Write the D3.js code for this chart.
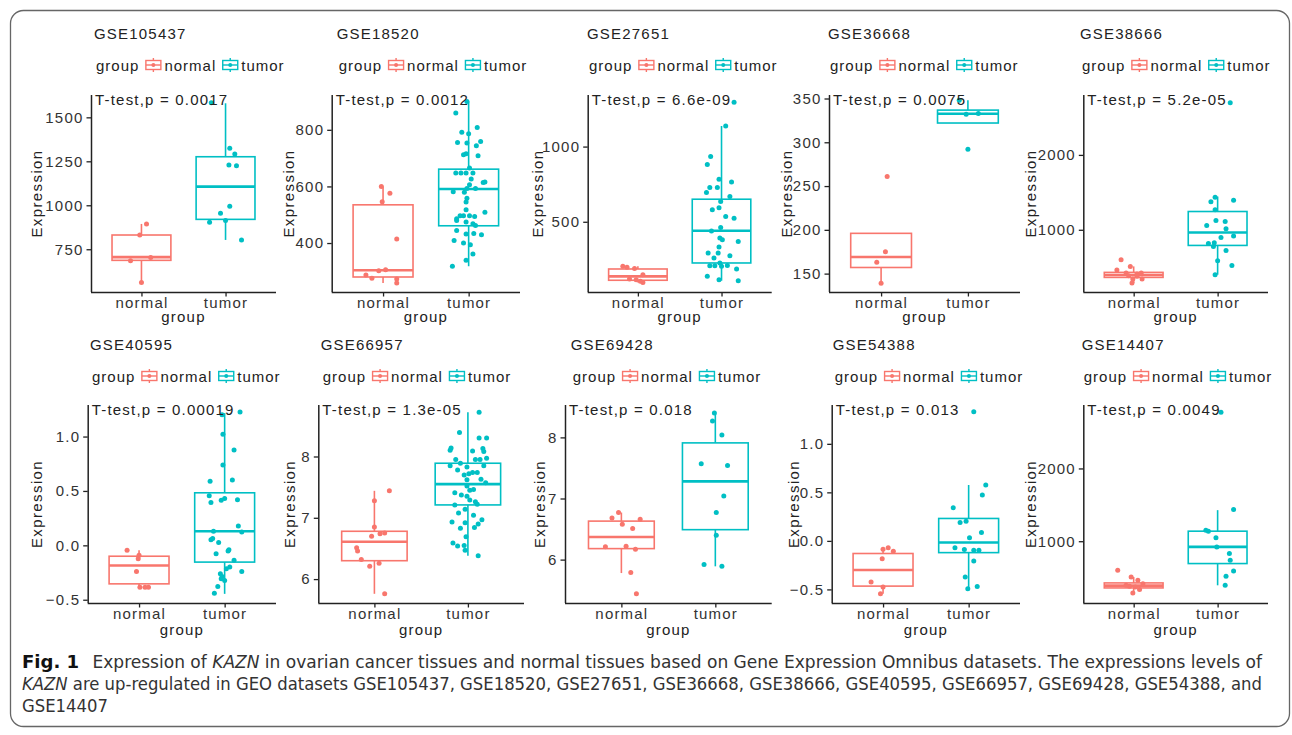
<!DOCTYPE html>
<html>
<head>
<meta charset="utf-8">
<script src="https://cdn.jsdelivr.net/npm/d3@7"></script>
<style>
body { margin: 0; background: #fff; }
svg text { font-family: "Liberation Sans", Arial, sans-serif; }
.caption text { font-family: "DejaVu Sans Condensed", "Liberation Sans Narrow", "Roboto Condensed", "Liberation Sans", sans-serif; white-space: pre; }
</style>
</head>
<body>
<svg id="chart" width="1292" height="735"></svg>
<script>
// ---- data ----
const datasets = ['GSE105437', 'GSE18520', 'GSE27651', 'GSE36668', 'GSE38666',
                  'GSE40595', 'GSE66957', 'GSE69428', 'GSE54388', 'GSE14407']
const pValues = ['0.0017', '0.0012', '6.6e-09', '0.0075', '5.2e-05',
                 '0.00019', '1.3e-05', '0.018', '0.013', '0.0049']
const groups = ['normal', 'tumor']

// y range shown on each axis [bottom, top]
const yExtent = [[507, 1627], [227, 923], [33, 1343], [129, 354], [169, 2800],
                 [-0.53, 1.29], [5.61, 8.84], [5.29, 8.53], [-0.64, 1.40], [151, 2872]]
const yTicks = [[750, 1000, 1250, 1500], [400, 600, 800], [500, 1000], [150, 200, 250, 300, 350], [1000, 2000],
                [-0.5, 0, 0.5, 1.0], [6, 7, 8], [6, 7, 8], [-0.5, 0, 0.5, 1.0], [1000, 2000]]

// box stats [lower whisker, q1, median, q3, upper whisker]
const normalBox = [[561, 687, 705, 831, 894], [259, 280, 304, 535, 600], [97, 111, 137, 186, 204],
                   [139, 157, 169, 196, 196], [289, 364, 396, 431, 511], [-0.385, -0.354, -0.185, -0.10, -0.046],
                   [5.76, 6.3, 6.61, 6.78, 7.44], [5.78, 6.18, 6.37, 6.63, 6.77], [-0.545, -0.466, -0.30, -0.13, -0.072],
                   [289, 358, 390, 427, 509]]
const tumorBox = [[803, 920, 1106, 1276, 1580], [318, 461, 591, 661, 900], [108, 226, 440, 650, 1137],
                  [322, 322, 332.5, 336.75, 348], [400, 791, 964, 1244, 1444], [-0.446, -0.154, 0.129, 0.483, 1.215],
                  [6.38, 7.21, 7.55, 7.89, 8.72], [5.89, 6.49, 7.28, 7.91, 8.39], [-0.493, -0.121, -0.017, 0.231, 0.576],
                  [394, 693, 922, 1138, 1427]]

// individual samples, with the horizontal jitter (share of group spacing)
const normalExpr = [
  [894, 831, 684, 703, 561],
  [600, 576, 546, 414, 287, 276, 302, 306, 273, 259],
  [204, 197, 190, 148, 119, 97, 104, 115],
  [261, 175, 163, 139],
  [600, 511, 462, 422, 409, 422, 342, 342, 378, 387, 289],
  [-0.046, -0.092, -0.123, -0.24, -0.385, -0.385, -0.385],
  [7.44, 7.28, 6.85, 6.75, 6.74, 6.70, 6.51, 6.46, 6.32, 6.21, 6.26, 5.76],
  [6.77, 6.68, 6.66, 6.58, 6.51, 6.21, 6.22, 6.17, 5.79, 5.44],
  [-0.072, -0.107, -0.086, -0.183, -0.424, -0.476, -0.545],
  [601, 509, 463, 417, 381, 372, 335, 289, 394]
]
const normalJitter = [
  [0.06, -0.02, -0.13, 0.11, 0],
  [-0.02, 0.08, -0.01, 0.16, -0.2, -0.13, -0.05, 0.03, 0.16, 0.16],
  [-0.18, -0.13, -0.04, 0.06, -0.1, 0.06, 0.03, -0.02],
  [0.07, 0.05, -0.05, 0],
  [-0.15, -0.04, -0.2, -0.09, 0.04, 0.09, -0.01, 0.1, 0.04, -0.06, -0.02],
  [-0.14, 0, -0.01, -0.03, 0.01, 0.07, 0.11],
  [0.16, 0, 0, 0.11, 0.06, -0.03, -0.19, -0.18, -0.14, -0.05, 0.05, 0.11],
  [-0.03, -0.1, 0.2, 0.01, 0.12, -0.17, 0.05, 0.15, 0.1, 0.16],
  [0.06, 0.12, 0, -0.01, -0.14, 0, -0.03],
  [-0.19, -0.03, 0.05, 0.11, -0.05, 0.02, 0.07, -0.01, -0.09]
]
const tumorExpr = [
  [1583, 1324, 1292, 1229, 1225, 994, 955, 903, 913, 803],
  [900, 859, 808, 791, 786, 755, 753, 759, 744, 712, 715, 708, 665, 647, 647, 647, 647, 616, 614, 606,
   593, 593, 626, 581, 579, 558, 545, 509, 518, 496, 496, 496, 494, 486, 480, 474, 468, 462, 444, 432,
   434, 429, 409, 400, 361, 339, 318, 394],
  [1294, 1137, 934, 881, 783, 765, 728, 728, 695, 668, 635, 580, 593, 535, 524, 462, 438, 392, 381, 369,
   332, 292, 292, 274, 259, 208, 208, 226, 210, 186, 137, 115, 108, 204],
  [348, 332, 333, 292],
  [2698, 1436, 1373, 1396, 1267, 1124, 1111, 1058, 1013, 916, 898, 818, 827, 724, 587, 524, 400, 778],
  [1.20, 1.225, 1.02, 0.877, 0.738, 0.59, 0.60, 0.455, 0.394, 0.415, 0.43, 0.42, 0.178, 0.129, 0.123,
   0.062, 0.052, 0.025, -0.077, -0.04, -0.052, -0.138, -0.215, -0.24, -0.26, -0.286, -0.2, -0.323, -0.378, -0.44, -0.308],
  [8.72, 8.39, 8.30, 8.30, 8.14, 8.10, 8.09, 8.13, 8.08, 7.95, 7.85, 7.89, 7.95, 7.95, 7.97, 7.78, 7.83, 7.85,
   7.72, 7.74, 7.70, 7.74, 7.63, 7.57, 7.62, 7.52, 7.41, 7.45, 7.46, 7.37, 7.35, 7.29, 7.26, 7.22, 7.21, 7.14,
   7.08, 7.04, 6.97, 6.93, 6.92, 6.90, 6.84, 6.83, 6.69, 6.59, 6.54, 6.55, 6.47, 6.38],
  [8.40, 8.27, 8.04, 7.57, 7.54, 7.04, 6.77, 6.40, 5.92, 5.89],
  [1.33, 0.576, 0.472, 0.341, 0.19, 0.203, 0.086, 0.031, -0.072, -0.09, -0.097, -0.097, -0.207, -0.372, -0.469, -0.493],
  [2771, 1436, 1151, 1138, 1046, 922, 830, 739, 592, 518, 394]
]
const tumorJitter = [
  [-0.17, 0.05, 0.11, 0.04, 0.13, 0.05, -0.06, -0.19, 0, 0.19],
  [-0.02, -0.15, 0.10, -0.08, 0, -0.13, -0.02, 0.14, 0.09, -0.06, -0.03, 0.11, 0.01, -0.15, -0.09, -0.03, 0.05, 0.19,
   0.17, 0.01, -0.02, 0.08, 0.03, -0.18, -0.05, -0.02, -0.03, 0.19, -0.03, -0.10, -0.06, 0.01, 0.07, -0.14, -0.14,
   -0.03, 0.05, 0.08, -0.14, -0.03, 0.06, 0.15, -0.17, -0.06, 0.05, -0.03, -0.19, 0.02],
  [0.15, 0.05, -0.13, -0.17, -0.03, 0.12, -0.14, -0.05, -0.18, 0.10, -0.01, -0.11, -0.03, 0.05, 0.15, -0.01, -0.12,
   -0.02, 0.01, 0.20, -0.03, -0.16, -0.04, 0.10, -0.09, -0.14, -0.08, -0.02, 0.07, 0.18, -0.17, -0.03, 0.20, 0],
  [-0.1, -0.02, 0.12, 0],
  [0.15, -0.03, -0.08, 0.19, -0.03, -0.02, 0.09, -0.13, 0.1, 0.19, 0.04, -0.11, -0.04, 0.1, 0, 0.17, -0.03, -0.05],
  [-0.03, 0.18, -0.02, 0.11, -0.02, -0.17, 0.09, -0.18, -0.16, -0.04, 0, 0.15, 0.16, -0.13, 0.2, -0.14, -0.16,
   -0.07, -0.1, 0.05, 0.04, 0.11, 0.02, 0.2, -0.05, -0.03, 0.06, 0, -0.08, -0.12, -0.04],
  [0.12, -0.09, 0.12, 0.2, -0.18, -0.19, 0.05, 0.16, 0.17, -0.13, -0.19, -0.08, 0.08, 0.13, 0.2, -0.11, -0.01, 0.17,
   0.01, 0.05, -0.04, 0.1, 0.14, 0.19, -0.01, -0.01, -0.14, 0.02, 0.06, -0.07, -0.01, 0.02, 0.08, 0.1, -0.14, -0.03,
   -0.1, 0.06, 0.15, -0.17, -0.03, 0.11, 0.07, -0.08, -0.02, -0.16, -0.11, -0.04, -0.03, 0.11],
  [-0.01, -0.03, 0.07, -0.15, 0.13, 0.09, 0.01, 0.01, -0.12, 0.07],
  [0.06, 0.2, 0.16, -0.18, -0.1, -0.03, 0.15, 0.01, -0.16, -0.05, 0.12, 0.06, 0.06, -0.04, 0.1, -0.01],
  [0.04, 0.19, -0.14, -0.11, -0.02, -0.01, 0.14, 0.15, 0.19, 0.1, 0.09]
]

// ---- layout ----
const colour = d3.scaleOrdinal().domain(groups).range(['#F8766D', '#00BFC4'])

const rows = [
  { top: 95, bottom: 292, titleY: 39, legendY: 65, tickY: 308, groupY: 322 },
  { top: 405, bottom: 603, titleY: 350, legendY: 376, tickY: 619, groupY: 635 }
]
const axisLeft = [91, 331.7, 587.7, 829, 1083.3, 87.7, 318.3, 565, 831.7, 1083.3]
const axisRight = [276, 520, 771.7, 1020, 1268, 276, 524, 771.7, 1020, 1268]
const titleX = [94, 336.7, 587, 828, 1080, 90, 320.7, 570.7, 832.7, 1081.7]
const yTitleX = [36, 288.3, 537.3, 786.7, 1030, 36, 289, 539.3, 793.3, 1030]

const fontSize = 15
const spacing = 1.2
const ink = '#222'

const svg = d3.select('#chart')

// outer frame
svg.append('rect')
    .attr('x', 10.5).attr('y', 10.5)
    .attr('width', 1279).attr('height', 716)
    .attr('rx', 13)
    .attr('fill', 'none')
    .attr('stroke', '#666')
    .attr('stroke-width', 1.3)

// small boxplot glyph used in the legends
const drawKey = (g, col) => {
    g.append('line').attr('x1', 0).attr('x2', 0).attr('y1', -7).attr('y2', 7)
        .attr('stroke', col).attr('stroke-width', 1.4)
    g.append('rect').attr('x', -7.5).attr('y', -4.5).attr('width', 15).attr('height', 9)
        .attr('fill', '#fff').attr('stroke', col).attr('stroke-width', 1.4)
    g.append('line').attr('x1', -7.5).attr('x2', 7.5).attr('y1', 0).attr('y2', 0)
        .attr('stroke', col).attr('stroke-width', 1.4)
    g.append('circle').attr('r', 2).attr('fill', col)
}

datasets.forEach((name, i) => {
    const row = rows[Math.floor(i / 5)]
    const g = svg.append('g').attr('class', 'panel')

    const x = d3.scalePoint()
        .domain(groups)
        .range([axisLeft[i], axisRight[i]])
        .padding(0.6)
    const y = d3.scaleLinear()
        .domain(yExtent[i])
        .range([row.bottom, row.top])
    const step = x.step()
    const halfBox = step * 0.35

    // title
    g.append('text')
        .attr('x', titleX[i]).attr('y', row.titleY)
        .attr('font-size', fontSize).attr('letter-spacing', spacing)
        .attr('fill', ink)
        .text(name)

    // legend
    const leg = g.append('g').attr('transform', `translate(${titleX[i] + 2}, ${row.legendY})`)
    let cx = 0
    const legText = (t) => {
        const el = leg.append('text')
            .attr('x', cx).attr('y', 5.5)
            .attr('font-size', fontSize).attr('letter-spacing', spacing - 0.2)
            .attr('fill', ink)
            .text(t)
        cx += el.node().getComputedTextLength()
    }
    legText('group')
    groups.forEach(gr => {
        cx += 6
        drawKey(leg.append('g').attr('transform', `translate(${cx + 8}, 0)`), colour(gr))
        cx += 19
        legText(gr)
    })

    // axes
    const yAxis = d3.axisLeft(y)
        .tickValues(yTicks[i])
        .tickSize(4.5)
        .tickPadding(3)
        .tickFormat(Math.abs(yTicks[i][1] - yTicks[i][0]) < 1 ? d3.format('.1f') : d3.format('d'))
    const yG = g.append('g')
        .attr('transform', `translate(${axisLeft[i]}, 0)`)
        .call(yAxis)
    const xG = g.append('g')
        .attr('transform', `translate(0, ${row.bottom})`)
        .call(d3.axisBottom(x).tickSize(4.5).tickPadding(4))

    ;[yG, xG].forEach(ax => {
        ax.select('.domain').attr('stroke', ink).attr('stroke-width', 1.5)
        ax.selectAll('.tick line').attr('stroke', ink).attr('stroke-width', 1.3)
        ax.selectAll('.tick text')
            .attr('font-size', fontSize).attr('letter-spacing', spacing)
            .attr('fill', '#333')
            .style('font-family', '"Liberation Sans", Arial, sans-serif')
    })
    // straight ends, no outer ticks
    yG.select('.domain').attr('d', `M0.5,${row.bottom}V${row.top}`)
    xG.select('.domain').attr('d', `M${axisLeft[i]},0.5H${axisRight[i]}`)
    xG.selectAll('.tick text').attr('dy', null)
        .attr('y', row.tickY - row.bottom)

    // axis titles
    g.append('text')
        .attr('x', (axisLeft[i] + axisRight[i]) / 2).attr('y', row.groupY)
        .attr('text-anchor', 'middle')
        .attr('font-size', fontSize).attr('letter-spacing', spacing)
        .attr('fill', ink)
        .text('group')
    g.append('text')
        .attr('transform', `translate(${yTitleX[i]}, ${(row.top + row.bottom) / 2}) rotate(-90)`)
        .attr('text-anchor', 'middle')
        .attr('dominant-baseline', 'central')
        .attr('font-size', fontSize).attr('letter-spacing', spacing + 0.2)
        .attr('fill', ink)
        .text('Expression')

    // boxes
    const boxes = [normalBox[i], tumorBox[i]]
    groups.forEach((gr, k) => {
        const b = boxes[k]
        const col = colour(gr)
        const bx = x(gr)
        const bg = g.append('g').attr('class', 'box')
        bg.append('line')
            .attr('x1', bx).attr('x2', bx)
            .attr('y1', y(b[3])).attr('y2', y(b[4]))
            .attr('stroke', col).attr('stroke-width', 1.6)
        bg.append('line')
            .attr('x1', bx).attr('x2', bx)
            .attr('y1', y(b[1])).attr('y2', y(b[0]))
            .attr('stroke', col).attr('stroke-width', 1.6)
        bg.append('rect')
            .attr('x', bx - halfBox).attr('width', halfBox * 2)
            .attr('y', y(b[3])).attr('height', Math.max(0.5, y(b[1]) - y(b[3])))
            .attr('fill', '#fff')
            .attr('stroke', col).attr('stroke-width', 1.6)
        bg.append('line')
            .attr('x1', bx - halfBox).attr('x2', bx + halfBox)
            .attr('y1', y(b[2])).attr('y2', y(b[2]))
            .attr('stroke', col).attr('stroke-width', 2.6)
    })

    // jittered points
    const pts = [
        ...normalExpr[i].map((v, j) => ({ group: 'normal', v, jit: normalJitter[i][j] || 0 })),
        ...tumorExpr[i].map((v, j) => ({ group: 'tumor', v, jit: tumorJitter[i][j] || 0 }))
    ]
    g.append('g').selectAll('circle')
        .data(pts)
        .enter()
        .append('circle')
            .attr('cx', d => x(d.group) + d.jit * step)
            .attr('cy', d => y(d.v))
            .attr('r', 2.5)
            .attr('fill', d => colour(d.group))

    // t-test label
    g.append('text')
        .attr('x', axisLeft[i] + 4).attr('y', row.top + 9.5)
        .attr('font-size', fontSize).attr('letter-spacing', spacing)
        .attr('fill', ink)
        .text(`T-test,p = ${pValues[i]}`)
})

// ---- caption ----
const captionLines = [
    { width: 1240, parts: [
        { t: 'Fig. 1', bold: true },
        { t: 'Expression of ', dx: 12 },
        { t: 'KAZN', italic: true },
        { t: ' in ovarian cancer tissues and normal tissues based on Gene Expression Omnibus datasets. The expressions levels of' }
    ] },
    { width: 1240, parts: [
        { t: 'KAZN', italic: true },
        { t: ' are up-regulated in GEO datasets GSE105437, GSE18520, GSE27651, GSE36668, GSE38666, GSE40595, GSE66957, GSE69428, GSE54388, and' }
    ] },
    { width: null, parts: [{ t: 'GSE14407' }] }
]

const cap = svg.append('g').attr('class', 'caption')
let squeeze = 1
captionLines.forEach((line, k) => {
    const t = cap.append('text')
        .attr('x', 22).attr('y', 668 + k * 22)
        .attr('font-size', 17)
        .attr('fill', '#333')
    line.parts.forEach(p => {
        t.append('tspan')
            .attr('dx', p.dx || null)
            .attr('font-weight', p.bold ? 'bold' : null)
            .attr('font-style', p.italic ? 'italic' : null)
            .attr('font-size', p.bold ? 18 : null)
            .attr('fill', p.bold ? '#111' : null)
            .text(p.t)
    })
    const natural = t.node().getComputedTextLength()
    if (line.width) squeeze = line.width / natural
    t.attr('textLength', line.width || natural * squeeze)
        .attr('lengthAdjust', 'spacingAndGlyphs')
})
</script>
</body>
</html>
